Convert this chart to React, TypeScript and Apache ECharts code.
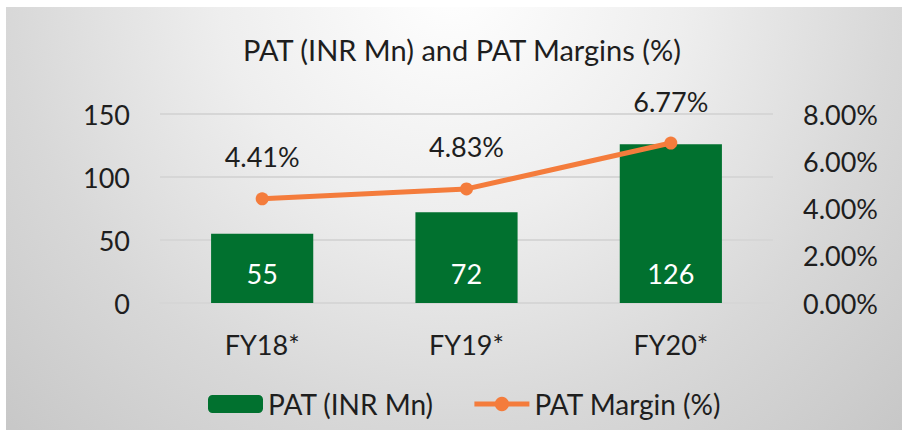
import React, { useEffect, useRef } from "react";
import * as echarts from "echarts";

const categories = ["FY18*", "FY19*", "FY20*"];
const patValues = [55, 72, 126];
const patMargins = [4.41, 4.83, 6.77];
const seriesNames = ["PAT (INR Mn)", "PAT Margin (%)"];
const titleText = "PAT (INR Mn) and PAT Margins (%)";

const FONT = "Lato, 'Open Sans', sans-serif";
const TXT = "#1e1e1e";
const W = 400;

export default function App() {
  const ref = useRef<HTMLDivElement>(null);
  useEffect(() => {
    const chart = echarts.init(ref.current!, undefined, { renderer: "svg" });
    chart.setOption({
      animation: false,
      backgroundColor: "#ffffff",
      graphic: [
        {
          type: "rect",
          z: -10,
          silent: true,
          shape: { x: 6, y: 7, width: 896, height: 423 },
          style: {
            fill: new echarts.graphic.RadialGradient(
              452,
              -20,
              650,
              [
                { offset: 0, color: "#ffffff" },
                { offset: 0.36, color: "#eeeeee" },
                { offset: 0.68, color: "#d8d8d8" },
                { offset: 1, color: "#c6c6c6" },
              ],
              true
            ),
          },
        },
      ],
      title: {
        text: titleText,
        left: 457,
        textAlign: "center",
        top: 30,
        textStyle: { fontFamily: FONT, fontSize: 29, fontWeight: W, color: TXT },
      },
      legend: {
        left: 203,
        top: 385,
        itemWidth: 55,
        itemHeight: 18,
        itemGap: 38,
        lineStyle: { width: 5 },
        textStyle: { fontFamily: FONT, fontSize: 28, fontWeight: W, color: TXT },
        data: seriesNames,
      },
      grid: { left: 160, right: 129, top: 114, bottom: 127 },
      xAxis: {
        type: "category",
        data: categories,
        axisTick: { show: false },
        axisLine: { show: true, lineStyle: { color: "#d6d6d6", width: 2 } },
        axisLabel: { margin: 28, fontFamily: FONT, fontSize: 27, fontWeight: W, color: TXT },
      },
      yAxis: [
        {
          type: "value",
          min: 0,
          max: 150,
          interval: 50,
          axisLine: { show: false },
          axisTick: { show: false },
          splitLine: { lineStyle: { color: "#d6d6d6", width: 2 } },
          axisLabel: { margin: 30, fontFamily: FONT, fontSize: 27, fontWeight: W, color: TXT },
        },
        {
          type: "value",
          min: 0,
          max: 8,
          interval: 2,
          position: "right",
          axisLine: { show: false },
          axisTick: { show: false },
          splitLine: { show: false },
          axisLabel: {
            margin: 30,
            fontFamily: FONT,
            fontSize: 27,
            fontWeight: W,
            color: TXT,
            formatter: (v: number) => v.toFixed(2) + "%",
          },
        },
      ],
      series: [
        {
          name: seriesNames[0],
          type: "bar",
          data: patValues,
          barWidth: "50%",
          itemStyle: { color: "#01712f" },
          label: {
            show: true,
            position: "insideBottom",
            distance: 16,
            fontFamily: FONT,
            fontSize: 27,
            fontWeight: W,
            color: "#ffffff",
          },
        },
        {
          name: seriesNames[1],
          type: "line",
          yAxisIndex: 1,
          data: patMargins,
          symbol: "circle",
          symbolSize: 13,
          z: 5,
          itemStyle: { color: "#f47c3c" },
          lineStyle: { color: "#f47c3c", width: 5 },
          label: {
            show: true,
            position: "top",
            distance: 22,
            fontFamily: FONT,
            fontSize: 27,
            fontWeight: W,
            color: TXT,
            formatter: (p: any) => Number(p.value).toFixed(2) + "%",
          },
        },
      ],
    });
    return () => chart.dispose();
  }, []);
  return (
    <div
      ref={ref}
      style={{ position: "fixed", left: 0, top: 0, width: 902, height: 430 }}
    />
  );
}
